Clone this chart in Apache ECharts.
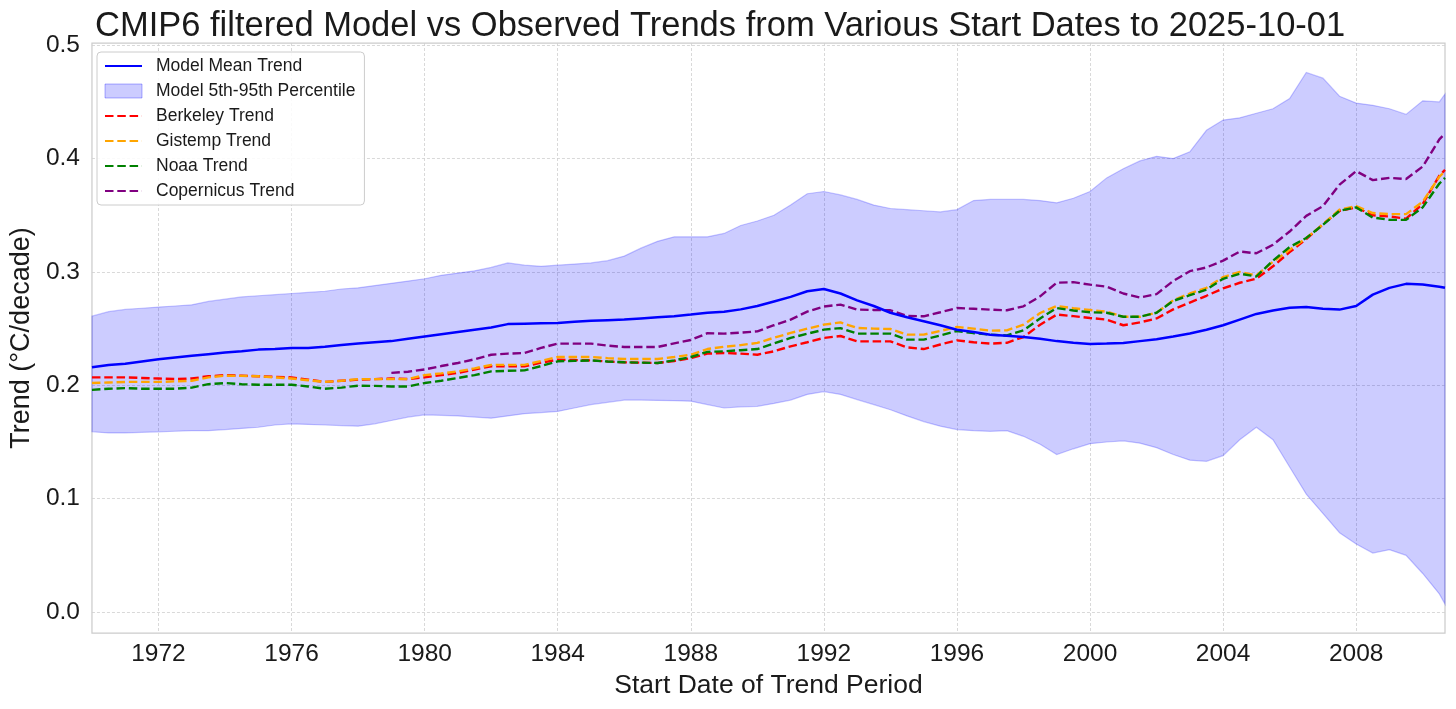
<!DOCTYPE html>
<html>
<head>
<meta charset="utf-8">
<script src="https://cdn.jsdelivr.net/npm/echarts@6/dist/echarts.min.js"></script>
<style>
html,body{margin:0;padding:0;background:#fff;}
#chart{width:1456px;height:709px;}
</style>
</head>
<body>
<div id="chart"></div>
<script>
// Start dates (decimal years)
const years = [
1970,1970.5,1971,1971.5,1972,1972.5,1973,1973.5,1974,1974.5,
1975,1975.5,1976,1976.5,1977,1977.5,1978,1978.5,1979,1979.5,
1980,1980.5,1981,1981.5,1982,1982.5,1983,1983.5,1984,1984.5,
1985,1985.5,1986,1986.5,1987,1987.5,1988,1988.5,1989,1989.5,
1990,1990.5,1991,1991.5,1992,1992.5,1993,1993.5,1994,1994.5,
1995,1995.5,1996,1996.5,1997,1997.5,1998,1998.5,1999,1999.5,
2000,2000.5,2001,2001.5,2002,2002.5,2003,2003.5,2004,2004.5,
2005,2005.5,2006,2006.5,2007,2007.5,2008,2008.5,2009,2009.5,
2010,2010.5,2010.67
];
const modelUpper = [
0.261,0.265,0.267,0.268,0.269,0.270,0.271,0.274,0.276,0.278,
0.279,0.280,0.281,0.282,0.283,0.285,0.286,0.288,0.290,0.292,
0.294,0.297,0.299,0.301,0.304,0.308,0.306,0.305,0.306,0.307,
0.308,0.310,0.314,0.321,0.327,0.331,0.331,0.331,0.334,0.341,
0.345,0.350,0.359,0.369,0.371,0.368,0.364,0.359,0.356,0.355,
0.354,0.353,0.355,0.363,0.364,0.364,0.364,0.363,0.361,0.365,
0.371,0.383,0.391,0.398,0.402,0.400,0.406,0.425,0.434,0.436,
0.440,0.444,0.453,0.476,0.471,0.455,0.449,0.447,0.444,0.439,
0.451,0.450,0.457
];
const modelMean = [
0.216,0.218,0.219,0.221,0.223,0.2245,0.226,0.2275,0.229,0.230,
0.2315,0.232,0.233,0.233,0.234,0.2355,0.237,0.238,0.239,0.241,
0.243,0.245,0.247,0.249,0.251,0.254,0.2544,0.2547,0.255,0.256,
0.257,0.2575,0.258,0.259,0.260,0.261,0.2624,0.264,0.265,0.267,
0.270,0.274,0.278,0.283,0.285,0.281,0.275,0.270,0.264,0.260,
0.2565,0.253,0.249,0.247,0.2447,0.2437,0.2426,0.241,0.239,0.2375,
0.2365,0.2368,0.2373,0.239,0.2407,0.243,0.2457,0.249,0.253,0.258,
0.263,0.266,0.2685,0.269,0.2675,0.2668,0.270,0.280,0.286,0.2895,
0.289,0.287,0.286
];
const modelLower = [
0.159,0.158,0.158,0.1585,0.159,0.1595,0.160,0.160,0.161,0.162,
0.163,0.165,0.166,0.1655,0.165,0.1645,0.164,0.166,0.169,0.172,
0.174,0.1735,0.173,0.172,0.171,0.173,0.175,0.176,0.177,0.180,
0.183,0.185,0.187,0.187,0.1867,0.1865,0.186,0.183,0.180,0.181,
0.1815,0.184,0.187,0.192,0.1945,0.192,0.1874,0.183,0.1785,0.173,
0.168,0.164,0.161,0.160,0.1594,0.160,0.155,0.148,0.139,0.144,
0.1485,0.150,0.151,0.149,0.145,0.139,0.134,0.133,0.138,0.152,
0.163,0.152,0.128,0.104,0.087,0.070,0.060,0.052,0.055,0.050,
0.034,0.016,0.007
];
const berkeley = [
0.207,0.207,0.207,0.2065,0.206,0.2055,0.206,0.208,0.209,0.2085,
0.208,0.2075,0.207,0.205,0.203,0.204,0.205,0.2055,0.206,0.2055,
0.207,0.209,0.211,0.214,0.2168,0.2168,0.2168,0.220,0.2226,0.2223,
0.222,0.221,0.2203,0.220,0.2197,0.2215,0.224,0.228,0.2285,0.228,
0.227,0.230,0.2344,0.238,0.2418,0.2435,0.2388,0.2388,0.2388,0.2335,
0.232,0.236,0.2397,0.238,0.2368,0.2375,0.2426,0.2535,0.2624,0.261,
0.2594,0.258,0.253,0.2555,0.259,0.267,0.273,0.279,0.2855,0.2905,
0.294,0.305,0.3175,0.329,0.342,0.354,0.357,0.350,0.349,0.347,
0.360,0.385,0.390
];
const gistemp = [
0.202,0.2025,0.203,0.203,0.203,0.2035,0.204,0.207,0.2085,0.2083,
0.208,0.207,0.206,0.2045,0.203,0.204,0.2055,0.2055,0.2055,0.2055,
0.209,0.2105,0.2123,0.215,0.218,0.218,0.218,0.2215,0.225,0.225,
0.225,0.224,0.2232,0.2232,0.2232,0.225,0.227,0.232,0.234,0.2355,
0.2374,0.242,0.2462,0.250,0.2535,0.2555,0.2506,0.250,0.2497,0.2447,
0.2447,0.248,0.2515,0.250,0.2482,0.2485,0.2535,0.2638,0.270,0.268,
0.2665,0.265,0.2605,0.2605,0.264,0.275,0.281,0.286,0.2955,0.300,
0.297,0.309,0.3195,0.330,0.342,0.355,0.358,0.352,0.351,0.351,
0.362,0.384,0.389
];
const noaa = [
0.196,0.197,0.1975,0.197,0.197,0.197,0.198,0.201,0.202,0.201,
0.2005,0.2005,0.2005,0.199,0.197,0.198,0.1997,0.1995,0.199,0.199,
0.202,0.204,0.2065,0.209,0.2123,0.2128,0.2132,0.217,0.2212,0.2216,
0.222,0.221,0.2203,0.220,0.2197,0.222,0.225,0.2295,0.230,0.231,
0.232,0.237,0.2418,0.2455,0.2491,0.2505,0.2456,0.2456,0.2456,0.2403,
0.2403,0.244,0.2479,0.246,0.2447,0.244,0.2485,0.259,0.2682,0.266,
0.2645,0.264,0.2605,0.2605,0.264,0.2745,0.2795,0.2845,0.294,0.2985,
0.296,0.310,0.322,0.330,0.3415,0.354,0.357,0.348,0.346,0.346,
0.357,0.378,0.383
];
const copernicus = [
null,null,null,null,null,null,null,null,null,null,
null,null,null,null,null,null,null,null,0.211,0.212,
0.214,0.217,0.2197,0.223,0.227,0.228,0.2285,0.233,0.2368,0.2368,
0.2368,0.235,0.2338,0.2338,0.2338,0.237,0.240,0.246,0.2456,0.2465,
0.2476,0.253,0.258,0.265,0.2695,0.2712,0.2668,0.2665,0.2662,0.2612,
0.2609,0.2645,0.2682,0.2675,0.2668,0.2662,0.2697,0.2785,0.2905,0.291,
0.2888,0.287,0.281,0.2775,0.2805,0.292,0.3007,0.304,0.310,0.318,
0.3165,0.324,0.3357,0.3495,0.358,0.377,0.389,0.381,0.383,0.382,
0.393,0.417,0.422
];
const xTicks = [1972,1976,1980,1984,1988,1992,1996,2000,2004,2008];
const yTicks = [0,0.1,0.2,0.3,0.4,0.5];

const FONT = "'Liberation Sans', Arial, Helvetica, sans-serif";
const pairs = arr => years.map((x, i) => [x, arr[i]]);

const dashed = (name, color, arr) => ({
  name: name, type: 'line', data: pairs(arr), symbol: 'none', showSymbol: false,
  connectNulls: false, z: 3,
  lineStyle: { color: color, width: 2.4, type: [8.5, 3.8] },
  itemStyle: { color: color },
  emphasis: { disabled: true }
});
const lineItem = name => ({ name: name, itemStyle: { opacity: 0 } });

const chart = echarts.init(document.getElementById('chart'), null, { renderer: 'canvas' });
chart.setOption({
  animation: false,
  backgroundColor: '#ffffff',
  title: {
    text: 'CMIP6 filtered Model vs Observed Trends from Various Start Dates to 2025-10-01',
    left: 90, top: 4,
    textStyle: { fontFamily: FONT, fontSize: 34.5, fontWeight: 'normal', color: '#1a1a1a' }
  },
  legend: {
    orient: 'vertical', left: 97, top: 52,
    itemWidth: 37, itemHeight: 14, itemGap: 7,
    padding: [5, 9, 5, 7],
    backgroundColor: 'rgba(255,255,255,0.85)',
    borderColor: '#cccccc', borderWidth: 1, borderRadius: 4,
    textStyle: { fontFamily: FONT, fontSize: 17.5, color: '#1a1a1a', padding: [0, 0, 0, 9] },
    data: [
      lineItem('Model Mean Trend'),
      { name: 'Model 5th-95th Percentile', icon: 'rect',
        itemStyle: { opacity: 1, color: 'rgba(0,0,255,0.2)', borderColor: 'rgba(0,0,255,0.3)', borderWidth: 1 } },
      lineItem('Berkeley Trend'),
      lineItem('Gistemp Trend'),
      lineItem('Noaa Trend'),
      lineItem('Copernicus Trend')
    ]
  },
  grid: {
    left: 89, right: 11, top: 43, bottom: 76, containLabel: false,
    show: true, borderColor: '#cccccc', borderWidth: 1.25, backgroundColor: 'transparent'
  },
  xAxis: {
    type: 'value', min: 1970, max: 2010.67,
    name: 'Start Date of Trend Period', nameLocation: 'middle', nameGap: 39,
    nameTextStyle: { fontFamily: FONT, fontSize: 26.5, color: '#1a1a1a' },
    axisLine: { show: false },
    axisTick: { show: false, customValues: xTicks },
    axisLabel: { customValues: xTicks, fontFamily: FONT, fontSize: 24.5, color: '#1a1a1a', margin: 9,
      formatter: v => String(Math.round(v)) },
    splitLine: { show: true, lineStyle: { color: '#cfcfcf', width: 0.8, type: [3, 2] } }
  },
  yAxis: {
    type: 'value', min: -0.0185, max: 0.502,
    name: 'Trend (°C/decade)', nameLocation: 'middle', nameGap: 54,
    nameTextStyle: { fontFamily: FONT, fontSize: 27, color: '#1a1a1a' },
    axisLine: { show: false },
    axisTick: { show: false, customValues: yTicks },
    axisLabel: { customValues: yTicks, fontFamily: FONT, fontSize: 24.5, color: '#1a1a1a', margin: 12,
      formatter: v => v.toFixed(1) },
    splitLine: { show: true, lineStyle: { color: '#cfcfcf', width: 0.8, type: [3, 2] } }
  },
  series: [
    {
      name: 'Model 5th-95th Percentile', type: 'custom', z: 1, silent: true,
      data: [[years[0], modelUpper[0]]],
      renderItem: function (params, api) {
        const pts = [];
        for (let i = 0; i < years.length; i++) pts.push(api.coord([years[i], modelUpper[i]]));
        for (let i = years.length - 1; i >= 0; i--) pts.push(api.coord([years[i], modelLower[i]]));
        return {
          type: 'polygon',
          shape: { points: pts },
          style: { fill: 'rgba(0,0,255,0.2)', stroke: 'rgba(0,0,255,0.22)', lineWidth: 1.2 }
        };
      },
      itemStyle: { color: 'rgba(0,0,255,0.2)' }
    },
    {
      name: 'Model Mean Trend', type: 'line', data: pairs(modelMean), symbol: 'none', showSymbol: false, z: 4,
      lineStyle: { color: '#0000ff', width: 2.5 }, itemStyle: { color: '#0000ff' },
      emphasis: { disabled: true }
    },
    dashed('Berkeley Trend', '#ff0000', berkeley),
    dashed('Gistemp Trend', '#ffa500', gistemp),
    dashed('Noaa Trend', '#008000', noaa),
    dashed('Copernicus Trend', '#800080', copernicus)
  ]
});
</script>
</body>
</html>
